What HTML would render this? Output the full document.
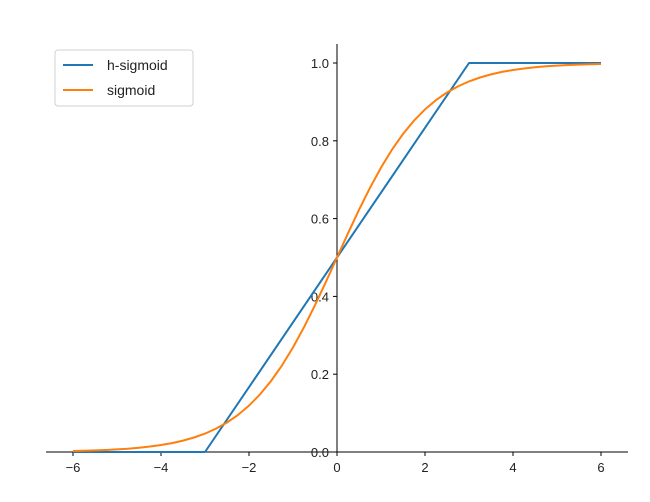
<!DOCTYPE html>
<html><head><meta charset="utf-8"><style>
body{margin:0;background:#fff;}
svg{font-family:"Liberation Sans","DejaVu Sans",sans-serif;}
</style></head><body>
<svg id="chart" width="650" height="497" xmlns="http://www.w3.org/2000/svg">
<g id="axes"></g>
<g id="series"></g>
<g>
<rect x="55" y="50" width="138" height="56" rx="3" fill="#fff" stroke="#d0d0d0"/>
<line x1="63" y1="65" x2="93" y2="65" stroke="#1f77b4" stroke-width="2"/>
<text x="107" y="70" font-size="14" fill="#222">h-sigmoid</text>
<line x1="63" y1="90" x2="93" y2="90" stroke="#ff7f0e" stroke-width="2"/>
<text x="107" y="95" font-size="14" fill="#222">sigmoid</text>
</g>
</svg>
<script>
const hX=[-6,-3,3,6];
const hY=[0,0,1,1];
const sX=[-6,-5.75,-5.5,-5.25,-5,-4.75,-4.5,-4.25,-4,-3.75,-3.5,-3.25,-3,-2.75,-2.5,-2.25,-2,-1.75,-1.5,-1.25,-1,-0.75,-0.5,-0.25,0,0.25,0.5,0.75,1,1.25,1.5,1.75,2,2.25,2.5,2.75,3,3.25,3.5,3.75,4,4.25,4.5,4.75,5,5.25,5.5,5.75,6];
const sY=[0.0025,0.0032,0.0041,0.0052,0.0067,0.0086,0.011,0.0141,0.018,0.023,0.0293,0.0373,0.0474,0.0601,0.0759,0.0953,0.1192,0.148,0.1824,0.2227,0.2689,0.3208,0.3775,0.4378,0.5,0.5622,0.6225,0.6792,0.7311,0.7773,0.8176,0.852,0.8808,0.9047,0.9241,0.9399,0.9526,0.9627,0.9707,0.977,0.982,0.9859,0.989,0.9914,0.9933,0.9948,0.9959,0.9968,0.9975];
const xTicks=[-6,-4,-2,0,2,4,6];
const xTickLabels=["\u22126","\u22124","\u22122","0","2","4","6"];
const yTicks=[0,0.2,0.4,0.6,0.8,1.0];
const yTickLabels=["0.0","0.2","0.4","0.6","0.8","1.0"];
const NS="http://www.w3.org/2000/svg";
const xs=v=>337+v*44;
const ys=v=>452-v*389;
const ax=document.getElementById('axes'), se=document.getElementById('series');
function mk(tag,at,parent){const e=document.createElementNS(NS,tag);for(const k in at)e.setAttribute(k,at[k]);parent.appendChild(e);return e;}
let e=mk('line',{x1:46,y1:452,x2:628,y2:452,stroke:'#000','stroke-width':1},ax);


e=mk('line',{x1:337,y1:44,x2:337,y2:452,stroke:'#000','stroke-width':1},ax);


xTicks.forEach((t,i)=>{
 let l=mk('line',{x1:xs(t),y1:452,x2:xs(t),y2:456,stroke:'#000'},ax);
 
 
 let tx=mk('text',{x:xs(t),y:472,'font-size':13,'text-anchor':'middle',fill:'#222'},ax);
 tx.textContent=xTickLabels[i];
 
 
});
yTicks.forEach((t,i)=>{
 let l=mk('line',{x1:333,y1:ys(t),x2:337,y2:ys(t),stroke:'#000'},ax);
 
 
 let tx=mk('text',{x:329,y:ys(t)+5,'font-size':13,'text-anchor':'end',fill:'#222'},ax);
 tx.textContent=yTickLabels[i];
 
 
});
function path(X,Y,color,name){
 const d=X.map((x,i)=>(i?'L':'M')+xs(x).toFixed(1)+','+ys(Y[i]).toFixed(1)).join(' ');
 const p=mk('path',{d:d,fill:'none',stroke:color,'stroke-width':2,'stroke-linejoin':'round'},se);
 
 
}
path(hX,hY,'#1f77b4','h-sigmoid-line');
path(sX,sY,'#ff7f0e','sigmoid-line');
</script>
</body></html>
